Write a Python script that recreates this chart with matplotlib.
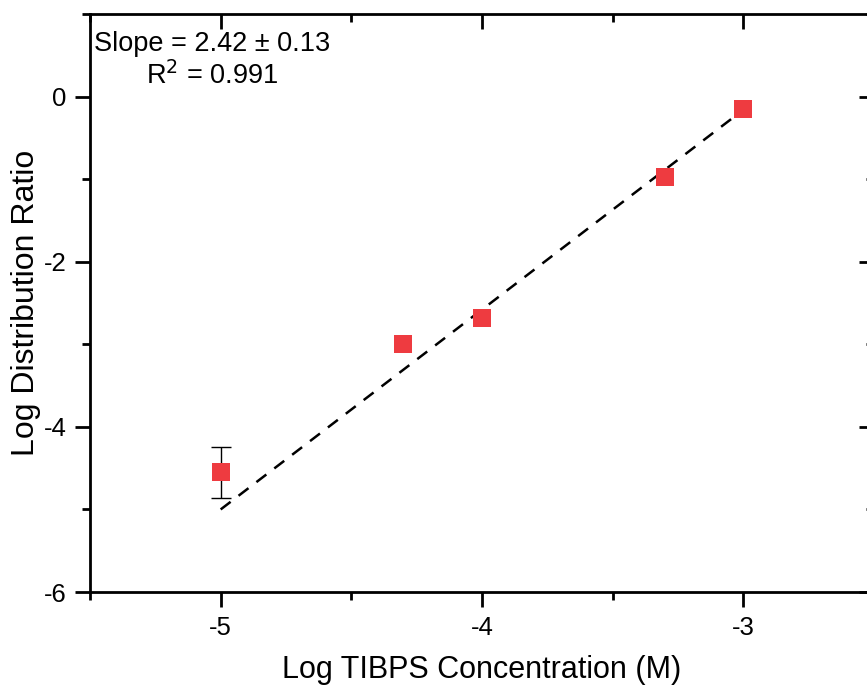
import matplotlib.pyplot as plt
import numpy as np

plt.rcParams['font.family'] = ['Liberation Sans', 'DejaVu Sans']

# data
log_conc = [-5.0, -4.301, -4.0, -3.301, -3.0]
log_d = [-4.55, -3.0, -2.68, -0.98, -0.15]
log_d_err = [0.31, 0, 0, 0, 0]

# fitted line (as reported on the chart)
fit_slope = 2.42
fit_intercept = 7.10
fit_range = [-5.0, -3.0]

fig = plt.figure(figsize=(8.67, 6.85), dpi=100)
ax = fig.add_axes([90 / 867, 93 / 685, 784 / 867, 578 / 685])

xf = np.array(fit_range)
ax.plot(xf, fit_slope * xf + fit_intercept, color='black', ls=(0, (5, 4)), lw=1.8, zorder=2)

# error bar drawn first, then markers on top
ax.errorbar(log_conc[:1], log_d[:1], yerr=log_d_err[:1], fmt='none', ecolor='black',
            elinewidth=1.0, capsize=7, capthick=1.0, zorder=1)
ax.plot(log_conc, log_d, 's', color='#ee3b40', markersize=12.5, markeredgewidth=0, zorder=3)

ax.set_xlim(-5.5, -2.5)
ax.set_ylim(-6, 1)
ax.set_xticks([-5, -4, -3])
ax.set_xticklabels(['-5', '-4', '-3'])
ax.set_yticks([-6, -4, -2, 0])
ax.set_yticklabels(['-6', '-4', '-2', '0'])
ax.set_xticks([-5.5, -4.5, -3.5, -2.5], minor=True)
ax.set_yticks([-5, -3, -1, 1], minor=True)

for s in ax.spines.values():
    s.set_linewidth(2.0)

ax.tick_params(which='both', top=True, right=True, width=2.0, labelsize=18.5)
ax.tick_params(which='major', length=11)
ax.tick_params(which='minor', length=6)
ax.tick_params(which='both', axis='x', direction='out', pad=6)
ax.tick_params(which='both', axis='y', direction='out', pad=6)
# top and right ticks point inward
for t in ax.xaxis.get_major_ticks() + ax.xaxis.get_minor_ticks():
    t.tick2line.set_marker(3)
for t in ax.yaxis.get_major_ticks() + ax.yaxis.get_minor_ticks():
    t.tick2line.set_marker(0)

ax.set_xlabel('Log TIBPS Concentration (M)', fontsize=22, labelpad=11)
ax.set_ylabel('Log Distribution Ratio', fontsize=23, labelpad=2)

ax.text((212 - 90) / 784, 1 - 17 / 578, 'Slope = 2.42 \u00b1 0.13\nR$^2$ = 0.991', transform=ax.transAxes,
        ha='center', va='top', fontsize=19.5, linespacing=1.2)

fig.savefig('out.png', dpi=100)
